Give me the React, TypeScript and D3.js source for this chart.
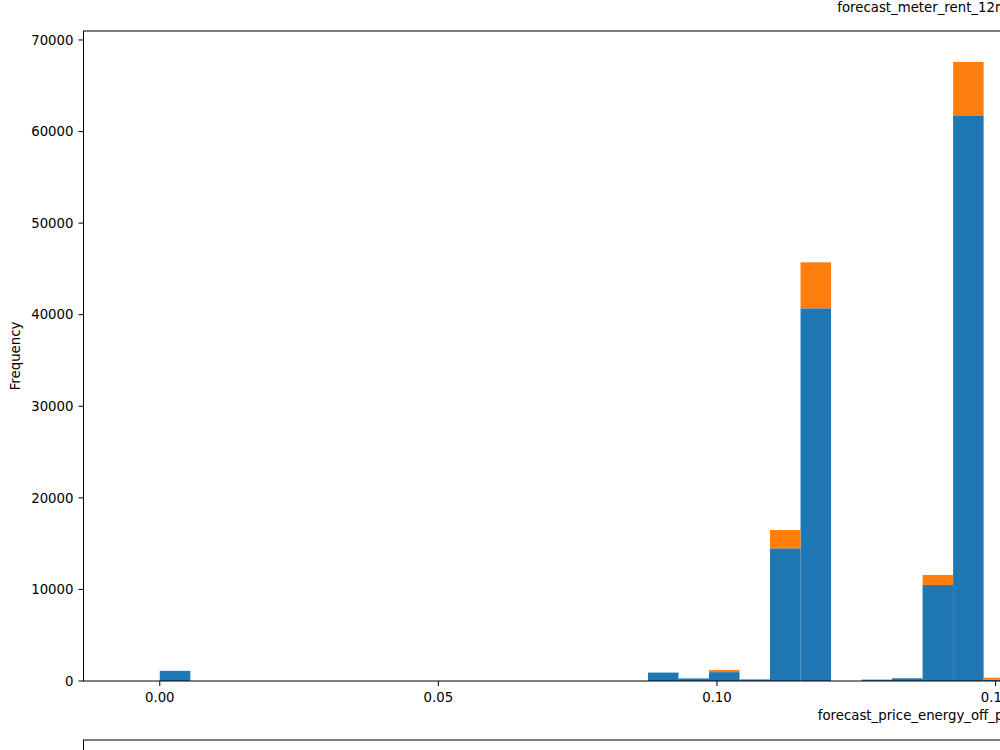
import { useRef, useEffect } from 'react';
import * as d3 from 'd3';

// histogram, 50 bins between 0 and the column max; only the filled bins are listed
const dataMax = 0.2738;
const binCount = 50;
const binIndex = [0, 16, 17, 18, 19, 20, 21, 23, 24, 25, 26, 27];
const blueCounts = [1110, 920, 280, 970, 170, 14490, 40700, 150, 300, 10480, 61700, 140];
const orangeCounts = [0, 0, 0, 230, 0, 2000, 5020, 0, 0, 1100, 5900, 220];

const xTicks = [0, 0.05, 0.1, 0.15, 0.2, 0.25];
const yTicks = [0, 10000, 20000, 30000, 40000, 50000, 60000, 70000];

const title = 'forecast_meter_rent_12m';
const xLabel = 'forecast_price_energy_off_peak';
const yLabel = 'Frequency';

const BLUE = '#1f77b4';
const ORANGE = '#ff7f0e';

const HistChart = () => {
  const svgRef = useRef<SVGSVGElement>(null);

  useEffect(() => {
    if (!svgRef.current) return;

    const width = 1000;
    const height = 750;
    const left = 83.5;
    const top = 31;
    const bottom = 681;
    const font = 'DejaVu Sans, sans-serif';

    const svg = d3.select(svgRef.current).attr('width', width).attr('height', height);
    svg.selectAll('*').remove();

    const binWidth = dataMax / binCount;
    const pad = dataMax * 0.05;

    // the axes run far past the right edge of the picture
    const pxPerUnit = 5572;
    const right = left + (dataMax + 2 * pad) * pxPerUnit;

    const x = d3.scaleLinear().domain([-pad, dataMax + pad]).range([left, right]);

    const totals = binIndex.map((_, i) => blueCounts[i] + orangeCounts[i]);
    const yMax = (d3.max(totals) as number) * 1.05;
    const y = d3.scaleLinear().domain([0, yMax]).range([bottom, top]);

    const rows = binIndex.map((b, i) => ({
      lo: b * binWidth,
      hi: (b + 1) * binWidth,
      blue: blueCounts[i],
      orange: orangeCounts[i],
    }));

    const bars = svg.append('g');

    bars
      .selectAll('rect.blue')
      .data(rows)
      .enter()
      .append('rect')
      .attr('class', 'blue')
      .attr('x', (d) => x(d.lo))
      .attr('width', (d) => x(d.hi) - x(d.lo))
      .attr('y', (d) => y(d.blue))
      .attr('height', (d) => y(0) - y(d.blue))
      .attr('fill', BLUE);

    bars
      .selectAll('rect.orange')
      .data(rows.filter((d) => d.orange > 0))
      .enter()
      .append('rect')
      .attr('class', 'orange')
      .attr('x', (d) => x(d.lo))
      .attr('width', (d) => x(d.hi) - x(d.lo))
      .attr('y', (d) => y(d.blue + d.orange))
      .attr('height', (d) => y(d.blue) - y(d.blue + d.orange))
      .attr('fill', ORANGE);

    // frame
    svg
      .append('rect')
      .attr('x', left)
      .attr('y', top)
      .attr('width', right - left)
      .attr('height', bottom - top)
      .attr('fill', 'none')
      .attr('stroke', '#000')
      .attr('stroke-width', 1);

    // x axis
    const xg = svg.append('g').attr('font-family', font).attr('font-size', 13.3);
    xTicks.forEach((t) => {
      xg.append('line')
        .attr('x1', x(t))
        .attr('x2', x(t))
        .attr('y1', bottom)
        .attr('y2', bottom + 5)
        .attr('stroke', '#000');
      xg.append('text')
        .attr('x', x(t))
        .attr('y', 701.5)
        .attr('text-anchor', 'middle')
        .attr('fill', '#000')
        .text(d3.format('.2f')(t));
    });

    // y axis
    const yg = svg.append('g').attr('font-family', font).attr('font-size', 13.3);
    yTicks.forEach((t) => {
      yg.append('line')
        .attr('x1', left - 5)
        .attr('x2', left)
        .attr('y1', y(t))
        .attr('y2', y(t))
        .attr('stroke', '#000');
      yg.append('text')
        .attr('x', left - 10)
        .attr('y', y(t))
        .attr('dy', '0.35em')
        .attr('text-anchor', 'end')
        .attr('fill', '#000')
        .text(t);
    });

    svg
      .append('text')
      .attr('x', (left + right) / 2)
      .attr('y', 12)
      .attr('text-anchor', 'middle')
      .attr('font-family', font)
      .attr('font-size', 13.3)
      .text(title);

    svg
      .append('text')
      .attr('x', (left + right) / 2)
      .attr('y', 720)
      .attr('text-anchor', 'middle')
      .attr('font-family', font)
      .attr('font-size', 13.3)
      .text(xLabel);

    svg
      .append('text')
      .attr('transform', `translate(20, ${(top + bottom) / 2}) rotate(-90)`)
      .attr('text-anchor', 'middle')
      .attr('font-family', font)
      .attr('font-size', 13.3)
      .text(yLabel);

    // top of the next subplot peeking in at the bottom
    svg
      .append('rect')
      .attr('x', left)
      .attr('y', 740)
      .attr('width', right - left)
      .attr('height', 200)
      .attr('fill', 'none')
      .attr('stroke', '#000')
      .attr('stroke-width', 1);
  }, []);

  return (
    <div
      style={{
        position: 'fixed',
        top: 0,
        left: 0,
        width: 1000,
        height: 750,
        overflow: 'hidden',
        background: '#fff',
      }}
    >
      <svg ref={svgRef} style={{ display: 'block', overflow: 'hidden' }}></svg>
    </div>
  );
};

export default function App() {
  return <HistChart />;
}
